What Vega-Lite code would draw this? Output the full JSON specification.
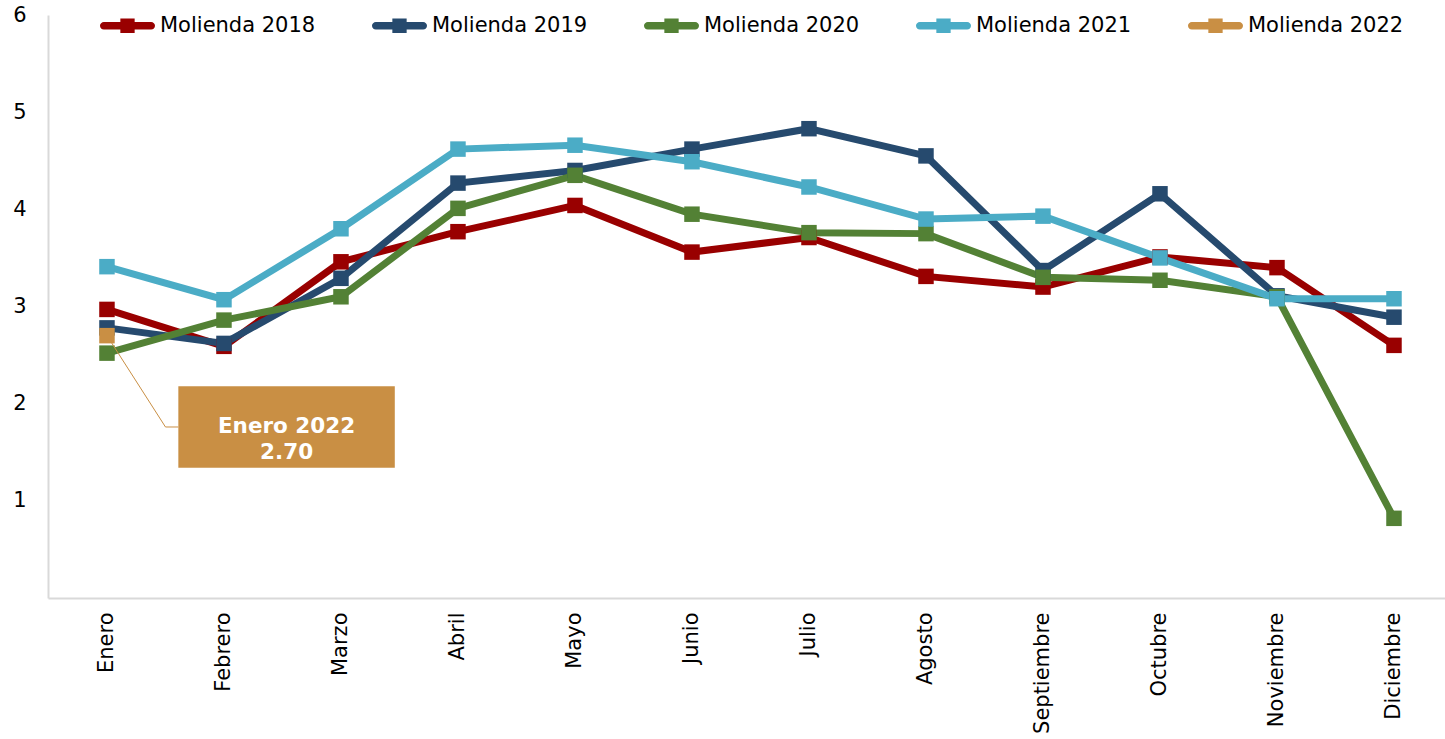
{
  "$schema": "https://vega.github.io/schema/vega-lite/v6.json",
  "autosize": "none",
  "width": 1397,
  "height": 583,
  "padding": {"left": 48, "top": 15, "right": 0, "bottom": 141},
  "background": "white",
  "config": {
    "view": {"stroke": null},
    "font": "DejaVu Sans",
    "axis": {"labelFont": "DejaVu Sans", "labelColor": "#000000", "grid": false, "ticks": false, "domainColor": "#d9d9d9", "domainWidth": 2, "title": null},
    "legend": {"labelFont": "DejaVu Sans"}
  },
  "datasets": {
    "main": [
      {"n": 1, "mes": "Enero", "serie": "Molienda 2018", "valor": 2.97},
      {"n": 2, "mes": "Febrero", "serie": "Molienda 2018", "valor": 2.59},
      {"n": 3, "mes": "Marzo", "serie": "Molienda 2018", "valor": 3.46},
      {"n": 4, "mes": "Abril", "serie": "Molienda 2018", "valor": 3.77},
      {"n": 5, "mes": "Mayo", "serie": "Molienda 2018", "valor": 4.04},
      {"n": 6, "mes": "Junio", "serie": "Molienda 2018", "valor": 3.56},
      {"n": 7, "mes": "Julio", "serie": "Molienda 2018", "valor": 3.71},
      {"n": 8, "mes": "Agosto", "serie": "Molienda 2018", "valor": 3.31},
      {"n": 9, "mes": "Septiembre", "serie": "Molienda 2018", "valor": 3.20},
      {"n": 10, "mes": "Octubre", "serie": "Molienda 2018", "valor": 3.51},
      {"n": 11, "mes": "Noviembre", "serie": "Molienda 2018", "valor": 3.40},
      {"n": 12, "mes": "Diciembre", "serie": "Molienda 2018", "valor": 2.60},
      {"n": 1, "mes": "Enero", "serie": "Molienda 2019", "valor": 2.78},
      {"n": 2, "mes": "Febrero", "serie": "Molienda 2019", "valor": 2.62},
      {"n": 3, "mes": "Marzo", "serie": "Molienda 2019", "valor": 3.29},
      {"n": 4, "mes": "Abril", "serie": "Molienda 2019", "valor": 4.27},
      {"n": 5, "mes": "Mayo", "serie": "Molienda 2019", "valor": 4.40},
      {"n": 6, "mes": "Junio", "serie": "Molienda 2019", "valor": 4.62},
      {"n": 7, "mes": "Julio", "serie": "Molienda 2019", "valor": 4.83},
      {"n": 8, "mes": "Agosto", "serie": "Molienda 2019", "valor": 4.55},
      {"n": 9, "mes": "Septiembre", "serie": "Molienda 2019", "valor": 3.37},
      {"n": 10, "mes": "Octubre", "serie": "Molienda 2019", "valor": 4.16},
      {"n": 11, "mes": "Noviembre", "serie": "Molienda 2019", "valor": 3.11},
      {"n": 12, "mes": "Diciembre", "serie": "Molienda 2019", "valor": 2.89},
      {"n": 1, "mes": "Enero", "serie": "Molienda 2020", "valor": 2.52},
      {"n": 2, "mes": "Febrero", "serie": "Molienda 2020", "valor": 2.86},
      {"n": 3, "mes": "Marzo", "serie": "Molienda 2020", "valor": 3.10},
      {"n": 4, "mes": "Abril", "serie": "Molienda 2020", "valor": 4.01},
      {"n": 5, "mes": "Mayo", "serie": "Molienda 2020", "valor": 4.35},
      {"n": 6, "mes": "Junio", "serie": "Molienda 2020", "valor": 3.95},
      {"n": 7, "mes": "Julio", "serie": "Molienda 2020", "valor": 3.76},
      {"n": 8, "mes": "Agosto", "serie": "Molienda 2020", "valor": 3.75},
      {"n": 9, "mes": "Septiembre", "serie": "Molienda 2020", "valor": 3.30},
      {"n": 10, "mes": "Octubre", "serie": "Molienda 2020", "valor": 3.27},
      {"n": 11, "mes": "Noviembre", "serie": "Molienda 2020", "valor": 3.10},
      {"n": 12, "mes": "Diciembre", "serie": "Molienda 2020", "valor": 0.82},
      {"n": 1, "mes": "Enero", "serie": "Molienda 2021", "valor": 3.41},
      {"n": 2, "mes": "Febrero", "serie": "Molienda 2021", "valor": 3.07},
      {"n": 3, "mes": "Marzo", "serie": "Molienda 2021", "valor": 3.80},
      {"n": 4, "mes": "Abril", "serie": "Molienda 2021", "valor": 4.62},
      {"n": 5, "mes": "Mayo", "serie": "Molienda 2021", "valor": 4.66},
      {"n": 6, "mes": "Junio", "serie": "Molienda 2021", "valor": 4.49},
      {"n": 7, "mes": "Julio", "serie": "Molienda 2021", "valor": 4.23},
      {"n": 8, "mes": "Agosto", "serie": "Molienda 2021", "valor": 3.90},
      {"n": 9, "mes": "Septiembre", "serie": "Molienda 2021", "valor": 3.93},
      {"n": 10, "mes": "Octubre", "serie": "Molienda 2021", "valor": 3.50},
      {"n": 11, "mes": "Noviembre", "serie": "Molienda 2021", "valor": 3.08},
      {"n": 12, "mes": "Diciembre", "serie": "Molienda 2021", "valor": 3.08},
      {"n": 1, "mes": "Enero", "serie": "Molienda 2022", "valor": 2.70}
    ],
    "leader": [
      {"orden": 0, "x": 1.0, "y": 2.70},
      {"orden": 1, "x": 1.5, "y": 1.76},
      {"orden": 2, "x": 1.61, "y": 1.76}
    ],
    "caja": [
      {"x": 1.61, "x2": 3.46, "y": 1.34, "y2": 2.18, "xc": 2.535, "yc": 1.76, "texto": "Enero 2022\n2.70"}
    ]
  },
  "layer": [
    {
      "data": {"name": "main"},
      "mark": {"type": "line", "strokeWidth": 7, "strokeJoin": "miter"},
      "encoding": {
        "x": {"field": "n", "type": "quantitative", "scale": {"domain": [0.496, 12.436], "nice": false, "zero": false},
          "axis": {"values": [1,2,3,4,5,6,7,8,9,10,11,12], "labelAngle": -90, "labelAlign": "right", "labelBaseline": "middle", "labelFontSize": 21, "labelPadding": 14,
            "labelExpr": "['Enero','Febrero','Marzo','Abril','Mayo','Junio','Julio','Agosto','Septiembre','Octubre','Noviembre','Diciembre'][datum.value-1]"}},
        "y": {"field": "valor", "type": "quantitative", "scale": {"domain": [0, 6], "nice": false},
          "axis": {"values": [1,2,3,4,5,6], "format": "d", "labelFontSize": 21, "labelPadding": 22}},
        "color": {"field": "serie", "type": "nominal",
          "scale": {"domain": ["Molienda 2018", "Molienda 2019", "Molienda 2020", "Molienda 2021", "Molienda 2022"], "range": ["#990000", "#264a6e", "#538135", "#4bacc6", "#c98f44"]},
          "legend": {"title": null, "orient": "none", "legendX": 52, "legendY": -17, "direction": "horizontal", "columns": 5, "columnPadding": 55,
            "symbolType": "M-0.86,-0.14H0.86A0.14,0.14 0 0 1 0.86,0.14H-0.86A0.14,0.14 0 0 1 -0.86,-0.14Z M-0.26,-0.26H0.26V0.26H-0.26Z",
            "symbolSize": 3025, "symbolStrokeWidth": 0, "labelFontSize": 21, "labelOffset": 5, "labelColor": "#000000", "labelLimit": 300,
            "encode": {"symbols": {"update": {"fill": {"scale": "color", "field": "value"}, "strokeWidth": {"value": 0}, "opacity": {"value": 1}}}}}}
      }
    },
    {
      "data": {"name": "main"},
      "mark": {"type": "point", "shape": "square", "filled": true, "size": 240, "opacity": 1},
      "encoding": {
        "x": {"field": "n", "type": "quantitative"},
        "y": {"field": "valor", "type": "quantitative"},
        "color": {"field": "serie", "type": "nominal"}
      }
    },
    {
      "data": {"name": "leader"},
      "mark": {"type": "line", "color": "#c98f44", "strokeWidth": 1},
      "encoding": {
        "x": {"field": "x", "type": "quantitative"},
        "y": {"field": "y", "type": "quantitative"},
        "order": {"field": "orden", "type": "quantitative"}
      }
    },
    {
      "data": {"name": "caja"},
      "mark": {"type": "rect", "color": "#c98f44", "opacity": 1},
      "encoding": {
        "x": {"field": "x", "type": "quantitative"},
        "x2": {"field": "x2"},
        "y": {"field": "y", "type": "quantitative"},
        "y2": {"field": "y2"}
      }
    },
    {
      "data": {"name": "caja"},
      "mark": {"type": "text", "color": "white", "fontWeight": "bold", "fontSize": 21.5, "lineBreak": "\n", "lineHeight": 26, "align": "center", "baseline": "middle"},
      "encoding": {
        "x": {"field": "xc", "type": "quantitative"},
        "y": {"field": "yc", "type": "quantitative"},
        "text": {"field": "texto"}
      }
    }
  ]
}
